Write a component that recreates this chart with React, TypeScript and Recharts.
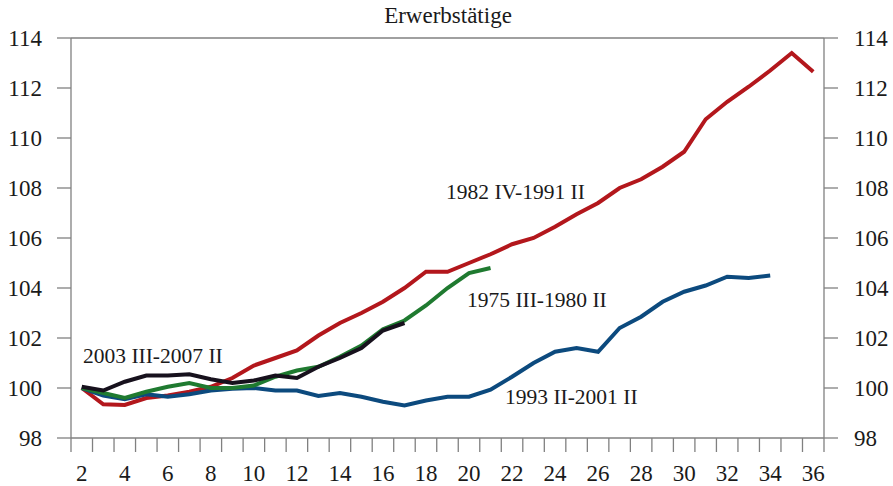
import React from 'react';
import { LineChart, Line, XAxis, YAxis, ReferenceLine } from 'recharts';

const quarters = [2, 3, 4, 5, 6, 7, 8, 9, 10, 11, 12, 13, 14, 15, 16, 17, 18, 19, 20, 21, 22, 23, 24, 25, 26, 27, 28, 29, 30, 31, 32, 33, 34, 35, 36];

const series1982 = [100, 99.35, 99.32, 99.6, 99.7, 99.85, 100.05, 100.4, 100.9, 101.2, 101.5, 102.1, 102.6, 103.0, 103.45, 104.0, 104.65, 104.65, 105.0, 105.35, 105.75, 106.0, 106.45, 106.95, 107.4, 108.0, 108.35, 108.85, 109.45, 110.75, 111.45, 112.05, 112.7, 113.4, 112.65];
const series1993 = [100, 99.7, 99.55, 99.75, 99.65, 99.75, 99.9, 99.97, 100.0, 99.9, 99.9, 99.68, 99.8, 99.65, 99.45, 99.3, 99.5, 99.65, 99.65, 99.93, 100.45, 101.0, 101.45, 101.6, 101.45, 102.4, 102.85, 103.45, 103.85, 104.1, 104.45, 104.4, 104.5];
const series1975 = [100, 99.8, 99.6, 99.85, 100.05, 100.2, 100.0, 100.0, 100.1, 100.45, 100.7, 100.85, 101.25, 101.7, 102.35, 102.7, 103.3, 104.0, 104.6, 104.8];
const series2003 = [100.05, 99.9, 100.25, 100.5, 100.5, 100.55, 100.35, 100.2, 100.3, 100.5, 100.4, 100.85, 101.2, 101.6, 102.3, 102.6];

const yTicks = [98, 100, 102, 104, 106, 108, 110, 112, 114];
const xLabelTicks = quarters.filter((q) => q % 2 === 0);
const xMarkTicks = [...quarters.map((q) => q - 0.5), 36.5];
const xTicks = [...xMarkTicks, ...xLabelTicks].sort((a, b) => a - b);

const title = 'Erwerbstätige';
const labels = [
  { text: '1982 IV-1991 II', x: 446, y: 199 },
  { text: '1975 III-1980 II', x: 467, y: 307 },
  { text: '2003 III-2007 II', x: 83, y: 363 },
  { text: '1993 II-2001 II', x: 505, y: 404 },
];

const data = quarters.map((q, i) => ({
  q,
  s1982: series1982[i] ?? null,
  s1993: series1993[i] ?? null,
  s1975: series1975[i] ?? null,
  s2003: series2003[i] ?? null,
}));

const FONT = '"Liberation Serif", "Times New Roman", serif';
const AXIS = '#808080';
const TEXT = '#1a1a1a';
const TICK_SIZE = 14;
const TICK_MARGIN = 13;
const TICK_FONT = 23;

const XTick = (props: any) => {
  const { x, y, payload } = props;
  const v = payload.value;
  if (Number.isInteger(v)) {
    return (
      <text x={x} y={y} dy="0.71em" textAnchor="middle" fontSize={TICK_FONT} style={{ fontFamily: FONT }} fill={TEXT}>
        {v}
      </text>
    );
  }
  return <line x1={x} x2={x} y1={y - TICK_MARGIN - TICK_SIZE} y2={y - TICK_MARGIN} stroke={AXIS} strokeWidth={1.3} />;
};

const YTick = (props: any) => {
  const { x, y, payload, orientation } = props;
  return (
    <text
      x={x}
      y={y}
      dy="0.36em"
      textAnchor={orientation === 'right' ? 'start' : 'end'}
      fontSize={TICK_FONT}
      style={{ fontFamily: FONT }}
      fill={TEXT}
    >
      {payload.value}
    </text>
  );
};

export default function App() {
  return (
    <div style={{ position: 'absolute', left: 0, top: 0, width: 893, height: 486, background: '#fff', fontFamily: FONT }}>
      <LineChart width={893} height={486} data={data} margin={{ top: 38, right: 0, bottom: 0, left: 0 }} style={{ fontFamily: FONT }}>
        <XAxis
          dataKey="q"
          type="number"
          domain={[1.5, 36.5]}
          allowDataOverflow
          ticks={xTicks}
          interval={0}
          tick={<XTick />}
          tickLine={false}
          tickSize={TICK_SIZE}
          tickMargin={TICK_MARGIN}
          axisLine={{ stroke: AXIS, strokeWidth: 1.3 }}
          height={48}
        />
        <YAxis
          yAxisId="left"
          domain={[98, 114]}
          ticks={yTicks}
          interval={0}
          width={71}
          tickSize={14}
          tickMargin={15}
          tick={<YTick orientation="left" />}
          axisLine={{ stroke: AXIS, strokeWidth: 1.3 }}
          tickLine={{ stroke: AXIS, strokeWidth: 1.3 }}
        />
        <YAxis
          yAxisId="right"
          orientation="right"
          domain={[98, 114]}
          ticks={yTicks}
          interval={0}
          width={69}
          tickSize={14}
          tickMargin={16}
          tick={<YTick orientation="right" />}
          axisLine={{ stroke: AXIS, strokeWidth: 1.3 }}
          tickLine={{ stroke: AXIS, strokeWidth: 1.3 }}
        />
        <ReferenceLine yAxisId="left" y={114} stroke={AXIS} strokeWidth={1.3} />
        <Line yAxisId="left" dataKey="s1982" stroke="#b3171c" strokeWidth={4} dot={false} isAnimationActive={false} connectNulls={false} strokeLinejoin="miter" />
        <Line yAxisId="right" dataKey="s1993" stroke="#0c4a7e" strokeWidth={4} dot={false} isAnimationActive={false} connectNulls={false} strokeLinejoin="miter" />
        <Line yAxisId="left" dataKey="s1975" stroke="#1f7a30" strokeWidth={4} dot={false} isAnimationActive={false} connectNulls={false} strokeLinejoin="miter" />
        <Line yAxisId="left" dataKey="s2003" stroke="#17111d" strokeWidth={4} dot={false} isAnimationActive={false} connectNulls={false} strokeLinejoin="miter" />
      </LineChart>
      <svg width={893} height={486} style={{ position: 'absolute', left: 0, top: 0, pointerEvents: 'none' }}>
        <text x={448} y={23} textAnchor="middle" fontSize={23} style={{ fontFamily: FONT }} fill={TEXT}>
          {title}
        </text>
        {labels.map((l) => (
          <text key={l.text} x={l.x} y={l.y} fontSize={21.5} style={{ fontFamily: FONT }} fill={TEXT}>
            {l.text}
          </text>
        ))}
      </svg>
    </div>
  );
}
